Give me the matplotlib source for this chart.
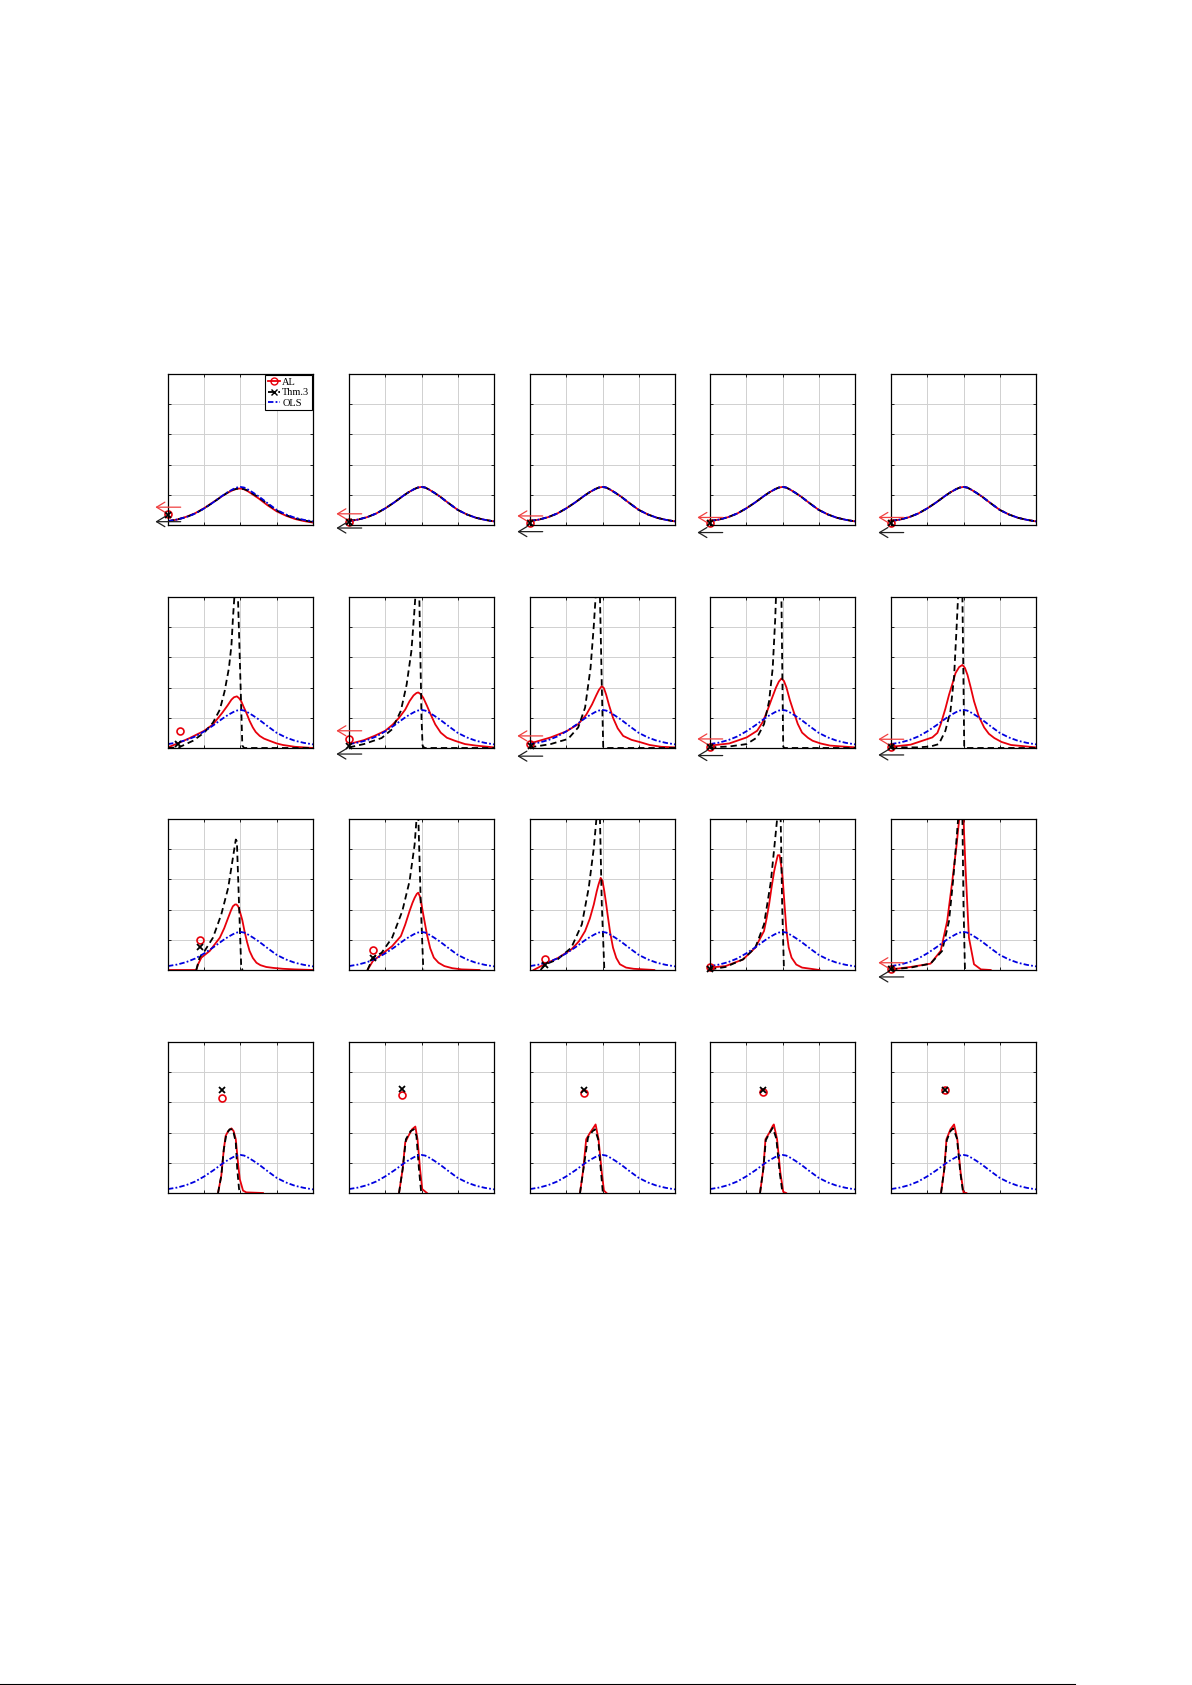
import matplotlib
matplotlib.use("Agg")
import matplotlib.pyplot as plt
from matplotlib.lines import Line2D

# OLS density, same in every panel
ols_x = [-2, -1.75, -1.5, -1.25, -1, -0.75, -0.5, -0.35, -0.2, -0.1, 0, 0.1, 0.2, 0.35, 0.5, 0.75, 1, 1.25, 1.5, 1.75, 2]
ols_y = [0.13, 0.18, 0.26, 0.38, 0.55, 0.75, 0.97, 1.09, 1.19, 1.24, 1.26, 1.24, 1.18, 1.07, 0.95, 0.72, 0.5, 0.35, 0.24, 0.17, 0.12]

# row 1: AL and Thm.3 follow OLS closely
al_r1c1 = [0.13, 0.18, 0.27, 0.39, 0.56, 0.76, 0.96, 1.07, 1.16, 1.2, 1.21, 1.18, 1.12, 1.0, 0.88, 0.65, 0.45, 0.31, 0.2, 0.13, 0.08]
thm_r1c1 = [0.12, 0.18, 0.26, 0.38, 0.55, 0.75, 0.96, 1.08, 1.17, 1.2, 1.2, 1.19, 1.14, 1.03, 0.92, 0.69, 0.48, 0.33, 0.22, 0.15, 0.1]
al_r1 = [al_r1c1, ols_y, ols_y, ols_y, ols_y]
thm_r1 = [thm_r1c1, ols_y, ols_y, ols_y, ols_y]

# row 2
al_x_r2 = [[-2, -1.68, -1.4, -1.0, -0.76, -0.5, -0.35, -0.25, -0.18, -0.1, -0.04, 0.02, 0.08, 0.16, 0.25, 0.34, 0.42, 0.53, 0.65, 0.8, 1.0, 1.17, 1.5, 2.0],
           [-2, -1.59, -1.3, -1.0, -0.8, -0.62, -0.45, -0.33, -0.22, -0.14, -0.09, -0.02, 0.05, 0.15, 0.25, 0.38, 0.53, 0.7, 0.92, 1.2, 1.5, 2.0],
           [-2, -1.43, -1.0, -0.67, -0.45, -0.29, -0.17, -0.1, -0.02, 0.04, 0.1, 0.18, 0.29, 0.42, 0.57, 0.8, 1.05, 1.3, 1.62, 2.0],
           [-2, -1.47, -0.99, -0.7, -0.55, -0.42, -0.3, -0.18, -0.1, -0.03, 0.04, 0.11, 0.2, 0.3, 0.42, 0.54, 0.7, 0.83, 1.05, 1.31, 2.0],
           [-2, -1.46, -0.86, -0.72, -0.63, -0.5, -0.4, -0.3, -0.22, -0.12, -0.03, 0.04, 0.11, 0.2, 0.29, 0.42, 0.57, 0.7, 0.85, 1.05, 1.31, 2.0]]
al_y_r2 = [[0.02, 0.18, 0.33, 0.57, 0.78, 1.17, 1.42, 1.6, 1.68, 1.71, 1.65, 1.55, 1.38, 1.17, 0.9, 0.68, 0.53, 0.4, 0.31, 0.24, 0.15, 0.1, 0.04, 0.0],
           [0.13, 0.26, 0.4, 0.57, 0.77, 1.0, 1.27, 1.55, 1.74, 1.82, 1.84, 1.78, 1.66, 1.4, 1.12, 0.78, 0.51, 0.34, 0.24, 0.13, 0.08, 0.02],
           [0.15, 0.35, 0.55, 0.79, 1.1, 1.44, 1.75, 1.92, 2.05, 1.98, 1.77, 1.42, 1.0, 0.65, 0.4, 0.27, 0.19, 0.1, 0.04, 0.02],
           [0.08, 0.15, 0.35, 0.57, 0.85, 1.23, 1.62, 2.0, 2.2, 2.3, 2.22, 2.0, 1.6, 1.23, 0.8, 0.51, 0.34, 0.24, 0.15, 0.08, 0.02],
           [0.04, 0.11, 0.35, 0.5, 0.78, 1.3, 1.76, 2.15, 2.48, 2.68, 2.75, 2.65, 2.42, 2.0, 1.55, 1.05, 0.68, 0.47, 0.33, 0.2, 0.1, 0.02]]
thm_x_r2 = [[-2, -1.7, -1.31, -1.0, -0.76, -0.57, -0.44, -0.32, -0.25, -0.21, -0.17, -0.12, -0.07, 0.0, 0.05, 0.1, 2.0],
            [-2, -1.59, -1.1, -0.81, -0.57, -0.41, -0.28, -0.21, -0.17, -0.12, -0.06, 0.0, 0.03, 0.08, 2.0],
            [-2, -1.43, -0.95, -0.67, -0.48, -0.33, -0.24, -0.19, -0.13, -0.07, -0.02, 0.02, 0.06, 2.0],
            [-2, -1.47, -0.99, -0.7, -0.51, -0.37, -0.27, -0.2, -0.18, -0.1, -0.03, 0.0, 0.02, 0.06, 2.0],
            [-2, -1.28, -0.91, -0.68, -0.5, -0.36, -0.26, -0.19, -0.15, -0.09, -0.03, 0.0, 0.02, 0.06, 2.0]]
thm_y_r2 = [[0.0, 0.02, 0.24, 0.51, 0.84, 1.27, 1.87, 2.64, 3.4, 4.27, 4.98, 6.0, 5.0, 2.15, 0.08, 0.0, 0.0],
            [0.02, 0.13, 0.33, 0.62, 1.23, 2.1, 3.2, 4.3, 5.0, 6.0, 5.0, 1.0, 0.08, 0.0, 0.0],
            [0.02, 0.13, 0.3, 0.68, 1.34, 2.65, 4.05, 5.0, 6.0, 5.0, 2.1, 0.04, 0.0, 0.0],
            [0.02, 0.05, 0.13, 0.35, 0.79, 1.55, 2.65, 4.3, 5.0, 6.0, 5.0, 2.0, 0.04, 0.0, 0.0],
            [0.02, 0.02, 0.05, 0.13, 0.57, 1.22, 2.36, 4.0, 5.0, 6.0, 5.0, 2.15, 0.02, 0.0, 0.0]]

# row 3
al_x_r3 = [[-2, -1.22, -1.17, -1.08, -0.85, -0.57, -0.45, -0.34, -0.26, -0.21, -0.15, -0.11, -0.06, -0.02, 0.05, 0.11, 0.18, 0.25, 0.34, 0.44, 0.55, 0.71, 0.9, 1.17, 1.5, 2.0],
           [-1.49, -1.34, -1.1, -0.81, -0.57, -0.45, -0.33, -0.25, -0.19, -0.13, -0.09, -0.04, 0.0, 0.07, 0.15, 0.24, 0.34, 0.47, 0.63, 0.85, 1.11, 1.6],
           [-1.9, -1.57, -1.24, -0.86, -0.65, -0.48, -0.35, -0.24, -0.16, -0.11, -0.05, 0.0, 0.05, 0.1, 0.14, 0.21, 0.29, 0.38, 0.48, 0.65, 0.86, 1.43],
           [-2, -1.57, -1.09, -0.75, -0.51, -0.44, -0.37, -0.3, -0.23, -0.17, -0.13, -0.08, -0.03, 0.01, 0.06, 0.11, 0.17, 0.25, 0.38, 0.54, 1.02],
           [-2, -1.46, -0.91, -0.63, -0.45, -0.31, -0.19, -0.12, -0.06, 0.0, 0.06, 0.15, 0.29, 0.48, 0.75]]
al_y_r3 = [[0, 0, 0.19, 0.41, 0.63, 1.07, 1.38, 1.73, 1.98, 2.11, 2.17, 2.17, 2.1, 1.95, 1.65, 1.29, 0.93, 0.63, 0.4, 0.24, 0.16, 0.1, 0.07, 0.04, 0.02, 0.0],
           [0, 0.3, 0.52, 0.79, 1.12, 1.5, 1.95, 2.22, 2.39, 2.52, 2.56, 2.42, 2.17, 1.7, 1.18, 0.72, 0.41, 0.24, 0.13, 0.06, 0.02, 0],
           [0, 0.21, 0.39, 0.68, 0.95, 1.29, 1.7, 2.17, 2.6, 2.83, 3.05, 2.95, 2.61, 2.2, 1.84, 1.25, 0.74, 0.4, 0.19, 0.08, 0.04, 0],
           [0.08, 0.13, 0.35, 0.74, 1.29, 1.7, 2.17, 2.75, 3.27, 3.6, 3.8, 3.8, 3.4, 2.94, 2.1, 1.29, 0.75, 0.41, 0.18, 0.08, 0],
           [0.02, 0.1, 0.21, 0.63, 1.62, 2.94, 4.15, 4.98, 5.5, 4.98, 3.27, 1.07, 0.19, 0.02, 0]]
thm_x_r3 = [[-1.22, -1.13, -0.99, -0.76, -0.53, -0.34, -0.21, -0.13, -0.1, -0.04, 0.02, 0.06],
            [-1.49, -1.34, -1.1, -0.81, -0.53, -0.33, -0.19, -0.1, -0.02, 0.05],
            [-1.71, -1.57, -1.24, -0.86, -0.57, -0.38, -0.24, -0.17, -0.12, -0.07, -0.02, 0.05],
            [-2, -1.57, -1.09, -0.75, -0.51, -0.32, -0.2, -0.15, -0.1, -0.05, -0.01, 0.04],
            [-2, -1.46, -0.91, -0.59, -0.4, -0.28, -0.19, -0.15, -0.09, -0.03, 0.0, 0.04]]
thm_y_r3 = [[0, 0.41, 0.63, 1.07, 1.84, 2.72, 3.71, 4.32, 4.26, 2.17, 0.08, 0.0],
            [0, 0.41, 0.57, 1.07, 1.95, 2.94, 4.15, 5.6, 2.17, 0.02],
            [0, 0.19, 0.35, 0.74, 1.51, 2.72, 4.04, 4.98, 5.6, 5.0, 2.2, 0.02],
            [0.02, 0.1, 0.35, 0.74, 1.51, 2.94, 4.37, 4.98, 5.6, 5.0, 2.2, 0.02],
            [0.02, 0.08, 0.21, 0.63, 1.62, 3.05, 4.37, 4.98, 5.6, 5.0, 2.15, 0.02]]

# row 4
al_x_r4 = [[-0.62, -0.53, -0.46, -0.41, -0.34, -0.25, -0.19, -0.13, -0.07, -0.02, 0.07, 0.16, 0.62],
           [-0.62, -0.52, -0.45, -0.36, -0.26, -0.17, -0.11, -0.04, 0.02, 0.15],
           [-0.62, -0.53, -0.45, -0.34, -0.25, -0.19, -0.11, -0.02, 0.04, 0.11],
           [-0.62, -0.53, -0.47, -0.36, -0.27, -0.24, -0.15, -0.06, 0.02, 0.1],
           [-0.62, -0.53, -0.47, -0.36, -0.26, -0.17, -0.08, 0.0, 0.08]]
al_y_r4 = [[0, 0.57, 1.45, 1.89, 2.05, 2.14, 2.05, 1.78, 1.01, 0.46, 0.08, 0.02, 0],
           [0, 0.79, 1.67, 1.89, 2.11, 2.2, 1.78, 0.79, 0.13, 0],
           [0, 0.79, 1.78, 2.0, 2.16, 2.27, 1.78, 0.68, 0.08, 0],
           [0, 0.79, 1.78, 2.0, 2.22, 2.27, 1.78, 0.68, 0.04, 0],
           [0, 0.79, 1.78, 2.11, 2.27, 1.78, 0.68, 0.02, 0]]
thm_x_r4 = [[-0.62, -0.53, -0.46, -0.39, -0.3, -0.21, -0.13, -0.09, -0.04, 0.0],
            [-0.62, -0.52, -0.43, -0.3, -0.21, -0.14, -0.07, -0.01],
            [-0.62, -0.5, -0.4, -0.27, -0.21, -0.12, -0.04, 0.01],
            [-0.62, -0.53, -0.46, -0.36, -0.27, -0.17, -0.08, 0.0],
            [-0.62, -0.53, -0.46, -0.36, -0.28, -0.18, -0.09, -0.01]]
thm_y_r4 = [[0, 0.57, 1.45, 1.95, 2.11, 2.11, 1.67, 0.79, 0.13, 0],
            [0, 0.79, 1.78, 2.05, 2.11, 1.89, 0.79, 0.04],
            [0, 1.01, 1.84, 2.05, 2.11, 1.78, 0.68, 0],
            [0, 0.79, 1.75, 1.98, 2.16, 1.8, 0.7, 0],
            [0, 0.79, 1.75, 2.05, 2.14, 1.8, 0.7, 0]]

# point estimates (marker) per row, per column
al_pts = [[(-2, 0.35), (-2, 0.1), (-2, 0.08), (-2, 0.06), (-2, 0.06)],
          [(-1.68, 0.57), (-2, 0.3), (-2, 0.13), (-2, 0.03), (-2, 0.03)],
          [(-1.13, 0.99), (-1.35, 0.66), (-1.6, 0.35), (-2, 0.11), (-2, 0.03)],
          [(-0.51, 3.13), (-0.53, 3.26), (-0.52, 3.32), (-0.54, 3.34), (-0.52, 3.4)]]
thm_pts = [[(-2, 0.33), (-2, 0.1), (-2, 0.08), (-2, 0.06), (-2, 0.06)],
           [(-1.72, 0.12), (-2, 0.05), (-1.98, 0.05), (-2, 0.03), (-2, 0.02)],
           [(-1.13, 0.76), (-1.35, 0.41), (-1.6, 0.17), (-2, 0.02), (-2, 0.03)],
           [(-0.51, 3.4), (-0.53, 3.43), (-0.52, 3.41), (-0.54, 3.41), (-0.52, 3.4)]]

# out-of-range arrows (height), None = no arrow
al_arrow = [[0.59, 0.37, 0.3, 0.25, 0.25],
            [None, 0.57, 0.4, 0.3, 0.29],
            [None, None, None, None, 0.24],
            [None, None, None, None, None]]
thm_arrow = [[0.11, -0.1, -0.22, -0.25, -0.25],
             [None, -0.2, -0.27, -0.25, -0.23],
             [None, None, None, None, -0.23],
             [None, None, None, None, None]]

W, H = 1192, 1685
fig = plt.figure(figsize=(W / 100, H / 100), dpi=100)

lefts = [168, 349, 530, 710, 891]
tops = [374, 597, 819, 1042]
aw, ah = 145, 151

red = '#e8000b'
dash_k = (0, (3.5, 2.2))
dash_b = (0, (3, 1.2, 1, 1.2))
arrow_style = '->, head_length=0.5, head_width=0.3'

for r in range(4):
    for c in range(5):
        ax = fig.add_axes([lefts[c] / W, 1 - (tops[r] + ah) / H, aw / W, ah / H])
        if r == 0:
            ax_x, ay, tx, ty = ols_x, al_r1[c], ols_x, thm_r1[c]
        elif r == 1:
            ax_x, ay, tx, ty = al_x_r2[c], al_y_r2[c], thm_x_r2[c], thm_y_r2[c]
        elif r == 2:
            ax_x, ay, tx, ty = al_x_r3[c], al_y_r3[c], thm_x_r3[c], thm_y_r3[c]
        else:
            ax_x, ay, tx, ty = al_x_r4[c], al_y_r4[c], thm_x_r4[c], thm_y_r4[c]
        ax.plot(ax_x, ay, color=red, lw=1.3)
        ax.plot(tx, ty, color='black', lw=1.3, linestyle=dash_k)
        ax.plot(ols_x, ols_y, color='#0000e0', lw=1.3, linestyle=dash_b)

        px, py = al_pts[r][c]
        ax.plot(px, py, 'o', mfc='none', mec=red, ms=5, mew=1.2, clip_on=False)
        px, py = thm_pts[r][c]
        ax.plot(px, py, 'x', color='black', ms=4, mew=1.3, clip_on=False)

        if al_arrow[r][c] is not None:
            ax.annotate('', xy=(-2.35, al_arrow[r][c]), xytext=(-1.65, al_arrow[r][c]),
                        arrowprops=dict(arrowstyle=arrow_style, color='#f04040', lw=0.9,
                                        mutation_scale=12, shrinkA=0, shrinkB=0),
                        annotation_clip=False)
        if thm_arrow[r][c] is not None:
            ax.annotate('', xy=(-2.35, thm_arrow[r][c]), xytext=(-1.65, thm_arrow[r][c]),
                        arrowprops=dict(arrowstyle=arrow_style, color='#202020', lw=0.9,
                                        mutation_scale=12, shrinkA=0, shrinkB=0),
                        annotation_clip=False)

        ax.set_xlim(-2, 2)
        ax.set_ylim(0, 5)
        ax.set_xticks([-1, 0, 1])
        ax.set_yticks([1, 2, 3, 4])
        ax.set_xticklabels([])
        ax.set_yticklabels([])
        ax.tick_params(direction='in', length=2.5, width=0.6, top=True, right=True)
        ax.grid(True, color='#d0d0d0', lw=0.7)
        ax.set_axisbelow(True)
        for s in ax.spines.values():
            s.set_linewidth(0.9)

        if r == 0 and c == 0:
            handles = [Line2D([], [], color=red, lw=1.3, marker='o', mfc='none', ms=5),
                       Line2D([], [], color='black', lw=1.3, linestyle=dash_k, marker='x', ms=4),
                       Line2D([], [], color='#0000e0', lw=1.3, linestyle=dash_b)]
            leg = ax.legend(handles, ['AL', 'Thm.3', 'OLS'], loc='upper right',
                            prop={'family': 'Liberation Serif', 'size': 7.5},
                            handlelength=1.2, handletextpad=0.2, borderpad=0.25,
                            labelspacing=0.1, borderaxespad=0.1, fancybox=False,
                            framealpha=1)
            leg.get_frame().set_edgecolor('black')
            leg.get_frame().set_linewidth(0.8)

# page rule at the bottom
fig.add_artist(Line2D([0, 1075 / W], [0.5 / H, 0.5 / H], color='black', lw=1.5))

fig.savefig('out.png', dpi=100)
